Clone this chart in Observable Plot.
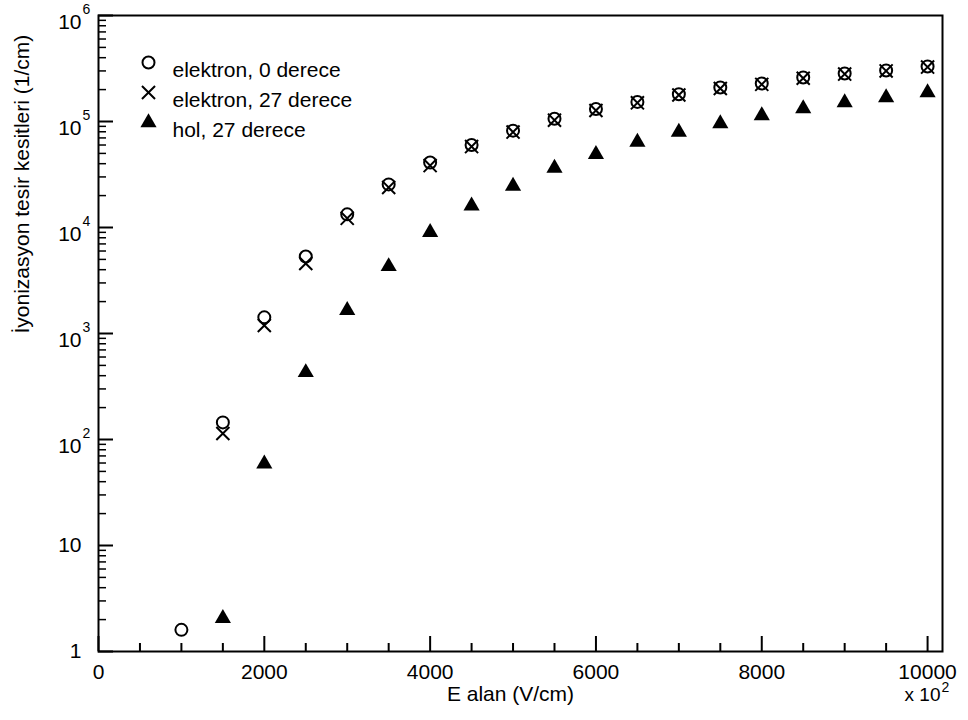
<!DOCTYPE html>
<html><head><meta charset="utf-8">
<script src="https://cdn.jsdelivr.net/npm/d3@7"></script>
<script src="https://cdn.jsdelivr.net/npm/@observablehq/plot@0.6"></script>
<style>html,body{margin:0;padding:0;background:#fff}</style>
</head><body><div id="chart"></div>
<script>
// ---- data ----
const E0 = [1000,1500,2000,2500,3000,3500,4000,4500,5000,5500,6000,6500,7000,7500,8000,8500,9000,9500,10000];
const elektron0 = [1.6,145,1420,5320,13300,25500,41000,60000,82000,106000,131000,153000,181000,209000,228000,260000,284000,303000,330000];
const E27 = [1500,2000,2500,3000,3500,4000,4500,5000,5500,6000,6500,7000,7500,8000,8500,9000,9500,10000];
const elektron27 = [114,1190,4570,12200,23900,38400,58000,79500,103000,127000,150000,178000,205000,224000,256000,280000,300000,326000];
const hol27 = [2.05,59,429,1650,4290,8980,16000,24600,36400,48900,64100,79600,95700,114000,132700,151100,168400,187700];

const xMajorTicks = [0,2000,4000,6000,8000,10000];
const xMinorTicks = [500,1000,1500,2500,3000,3500,4500,5000,5500,6500,7000,7500,8500,9000,9500];
const yMajorTicks = [1,10,100,1000,10000,100000,1000000];
const yBaseLabels = ["1","10","10","10","10","10","10"];
const yExpLabels = ["","","2","3","4","5","6"];
const yMinorMultipliers = [2,3,4,5,6,7,8,9];
const legendLabels = ["elektron, 0 derece","elektron, 27 derece","hol, 27 derece"];
const legendSymbols = ["circle","times","triangle"];
const xLabel = "E alan (V/cm)";
const yLabel = "İyonizasyon tesir kesitleri (1/cm)";
const xMultiplierBase = "x 10";
const xMultiplierExp = "2";

// ---- tables built from the arrays ----
const d0 = E0.map((e,i)=>({E:e, v:elektron0[i]}));
const d27 = E27.map((e,i)=>({E:e, v:elektron27[i]}));
const dh = E27.map((e,i)=>({E:e, v:hol27[i]}));
const yMinorTicks = yMajorTicks.slice(0,-1).flatMap(d => yMinorMultipliers.map(m => d*m));
const yLab = yMajorTicks.map((t,i)=>({t, base:yBaseLabels[i], exp:yExpLabels[i]}));
const yLabPlain = yLab.filter(d=>!d.exp);
const yLabPow = yLab.filter(d=>d.exp);

const legendMarks = legendLabels.flatMap((lab,i)=>{
  const dy = 47 + 30*i;
  const sym = legendSymbols[i];
  const dotOpts = sym === "triangle"
    ? {fill:"#000", stroke:"none"}
    : {fill:"none", stroke:"#000", strokeWidth:2};
  return [
    Plot.dot([lab], {frameAnchor:"top-left", dx:50, dy, symbol:sym, r:6, ...dotOpts}),
    Plot.text([lab], {frameAnchor:"top-left", dx:74, dy, text:d=>d, textAnchor:"start", fontSize:21})
  ];
});

const chart = Plot.plot({
  width: 968,
  height: 720,
  marginLeft: 98,
  marginRight: 26,
  marginTop: 15,
  marginBottom: 69,
  style: {fontFamily: "'Liberation Sans', Arial, sans-serif", fontSize: "21px", color: "#000", background: "#fff"},
  x: {domain: [0, 10180]},
  y: {type: "log", domain: [1, 1e6]},
  marks: [
    Plot.axisX({ticks: xMinorTicks, tickSize: -8, tickFormat: () => "", strokeWidth: 2, label: null}),
    Plot.axisX({ticks: xMajorTicks, tickSize: -15, tickFormat: () => "", strokeWidth: 2, label: null}),
    Plot.axisX({ticks: xMajorTicks, tickSize: 0, tickPadding: 13, tickFormat: d => String(d), fontSize: 21, label: null}),
    Plot.axisY({ticks: yMinorTicks, tickSize: -8, tickFormat: () => "", strokeWidth: 1.5, label: null}),
    Plot.axisY({ticks: yMajorTicks, tickSize: -15, tickFormat: () => "", strokeWidth: 2, label: null}),
    Plot.text(yLabPlain, {y: "t", frameAnchor: "left", dx: -17, text: "base", textAnchor: "end", fontSize: 21}),
    Plot.text(yLabPow, {y: "t", frameAnchor: "left", dx: -17, dy: 7, text: "base", textAnchor: "end", fontSize: 21}),
    Plot.text(yLabPow, {y: "t", frameAnchor: "left", dx: -16, dy: -6, text: "exp", textAnchor: "start", fontSize: 14}),
    Plot.frame({stroke: "#000", strokeWidth: 2}),
    Plot.dot(dh, {x: "E", y: "v", symbol: "triangle", r: 6, fill: "#000"}),
    Plot.dot(d0, {x: "E", y: "v", r: 6, fill: "none", stroke: "#000", strokeWidth: 2}),
    Plot.dot(d27, {x: "E", y: "v", symbol: "times", r: 6, stroke: "#000", strokeWidth: 2}),
    ...legendMarks,
    Plot.text([xLabel], {frameAnchor: "bottom", dx: -10, dy: 49, text: d => d, fontSize: 21}),
    Plot.text([yLabel], {frameAnchor: "left", dx: -76, rotate: -90, text: d => d, fontSize: 21}),
    Plot.text([xMultiplierBase], {frameAnchor: "bottom-right", dx: -2, dy: 49, text: d => d, textAnchor: "end", fontSize: 19}),
    Plot.text([xMultiplierExp], {frameAnchor: "bottom-right", dx: -1, dy: 40, text: d => d, textAnchor: "start", fontSize: 14})
  ]
});
document.getElementById("chart").appendChild(chart);
</script>
</body></html>
